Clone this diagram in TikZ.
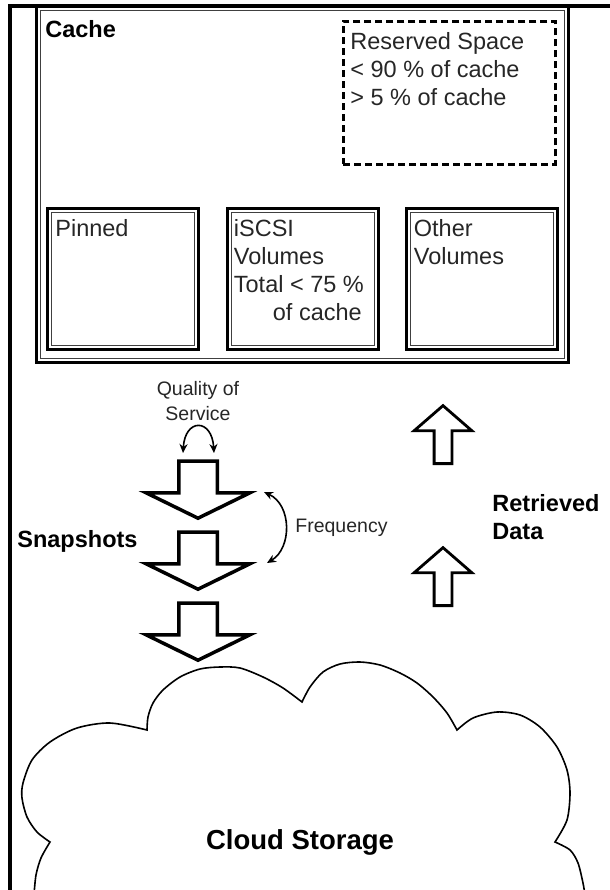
\documentclass[tikz,border=0pt]{standalone}
\usepackage{fontspec}
\setmainfont{Liberation Sans}
\usetikzlibrary{
    positioning,
    shapes.arrows,
    arrows.meta
}
\tikzset{
    dblbox/.style={
        rectangle, draw,
        line width=1.5pt,
        inner sep=0pt,
        outer sep=0pt,
        path picture={
            \draw[line width=0.5pt, black!75]
                ([shift={(2pt,2pt)}]path picture bounding box.south west)
                rectangle
                ([shift={(-2pt,-2pt)}]path picture bounding box.north east);
        }
    },
    subbox/.style={
        dblbox,
        minimum width=75.5pt,
        minimum height=70.5pt
    },
    lbl/.style={
        inner sep=0pt,
        align=left,
        text=black!85,
        font=\fontsize{11.75pt}{14pt}\selectfont
    },
    boldlbl/.style={
        lbl,
        text=black,
        font=\fontsize{11.75pt}{14pt}\selectfont\bfseries
    },
    smalllbl/.style={
        inner sep=0pt,
        text=black!85,
        font=\fontsize{9.75pt}{12.25pt}\selectfont
    },
    snaparrow/.style={
        single arrow, draw,
        shape border rotate=270,
        minimum width=50pt,
        minimum height=28.5pt,
        single arrow head extend=16.25pt,
        single arrow tip angle=127.8,
        inner xsep=8.75pt,
        inner ysep=0pt,
        line width=1.75pt
    },
    getarrow/.style={
        single arrow, draw,
        shape border rotate=90,
        minimum width=27.5pt,
        minimum height=29pt,
        single arrow head extend=10pt,
        single arrow tip angle=98,
        inner xsep=3.75pt,
        inner ysep=0pt,
        line width=1.4pt
    },
    curvearrow/.style={
        line width=0.8pt,
        {Stealth[length=4.5pt,width=4pt]}-{Stealth[length=4.5pt,width=4pt]}
    }
}

\begin{document}
\begin{tikzpicture}[x=0.5pt, y=-0.5pt]
\useasboundingbox (0,0) rectangle (610,890);

% Rahmen
\draw[line width=1.75pt] (10,895) -- (10,6) -- (615,6);

% Cache
\node[dblbox, anchor=north west, minimum width=266pt, minimum height=178pt] (cache) at (36,6) {};
\node[boldlbl, anchor=base west] (cachetxt) at (45,37) {Cache};

\node[draw, line width=1.25pt, dash pattern=on 3.5pt off 2pt,
      anchor=north west, minimum width=106pt, minimum height=71.5pt] (reserved) at (342,20) {};
\node[lbl, anchor=base west] (reservedtxt) at (350,105) {
    Reserved Space\\
    < 90 \% of cache\\
    > 5 \% of cache
};

% Bereiche im Cache
\node[subbox, anchor=north west] (pinned) at (47.5,208) {};
\node[subbox, right=14.25pt of pinned] (iscsi) {};
\node[subbox, right=14.25pt of iscsi] (other) {};

\node[lbl, anchor=base west] (pinnedtxt) at ([shift={(7.5,28)}]pinned.north west) {Pinned};
\node[lbl, anchor=base west] (iscsitxt) at ([shift={(6.5,112)}]iscsi.north west) {
    iSCSI\\
    Volumes\\
    Total < 75 \%\\
    \hspace*{19.5pt}of cache
};
\node[lbl, anchor=base west] (othertxt) at ([shift={(7,56)}]other.north west) {
    Other\\
    Volumes
};

% Snapshots
\node[snaparrow] (snapA) at (198,485) {};
\node[snaparrow] (snapB) at (198,556) {};
\node[snaparrow] (snapC) at (198,627) {};
\node[boldlbl, anchor=base west] (snaptxt) at (17,547.5) {Snapshots};

\coordinate (qosL) at (183,453);
\coordinate (qosR) at (214,453);
\draw[curvearrow] (qosL) .. controls (185,418) and (212,418) .. (qosR);
\node[smalllbl, align=center, anchor=base] (qostxt) at (198,420) {Quality of\\Service};

\coordinate (freqA) at (264,492);
\coordinate (freqB) at (267,563);
\draw[curvearrow] (freqA) .. controls (292,505) and (292,548) .. (freqB);
\node[smalllbl, anchor=base west] (freqtxt) at (295,532) {Frequency};

% Retrieved Data
\node[getarrow] (getA) at (443,438.5) {};
\node[getarrow] (getB) at (443,580.5) {};
\node[boldlbl, anchor=base west] (gettxt) at (492,539.5) {
    Retrieved\\
    Data
};

% Cloud
\draw[line width=0.8pt]
    plot[smooth] coordinates {(34,895) (36,875) (41,858) (50,842)}
    -- plot[smooth] coordinates {(50,842) (37,832) (27,817) (22,798) (23,783)
        (32,760) (50,742) (77,728) (110,723) (147,730)}
    -- plot[smooth] coordinates {(147,730) (148,717) (153,703) (163,690) (180,677)
        (200,669) (220,667) (240,668) (263,677) (283,688) (302,702)}
    -- plot[smooth] coordinates {(302,702) (310,687) (323,672) (340,664) (360,662)
        (380,665) (400,673) (417,683) (433,697) (447,713) (457,730)}
    -- plot[smooth] coordinates {(457,730) (473,718) (497,712) (520,715) (540,727)
        (557,747) (567,770) (570,793) (567,820) (555,842)}
    -- plot[smooth] coordinates {(555,842) (570,850) (578,863) (583,883) (585,895)};
\node[font=\fontsize{13.75pt}{16pt}\selectfont\bfseries, inner sep=0pt, anchor=base] (cloudtxt) at (300,849.5) {Cloud Storage};

\end{tikzpicture}
\end{document}
